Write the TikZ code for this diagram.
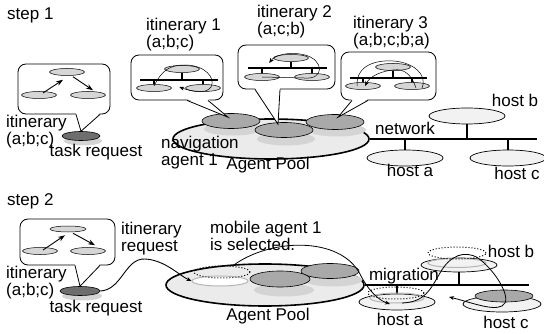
\documentclass[tikz,border=0pt]{standalone}
\usepackage{fontspec}
\setmainfont{Liberation Sans}
\usetikzlibrary{shapes.geometric,arrows.meta,calc}
\definecolor{poolfill}{HTML}{EBEBEB}
\definecolor{agentfill}{HTML}{A9A9A9}
\definecolor{shadowfill}{HTML}{D4D4D4}
\definecolor{hostfill}{HTML}{F2F2F2}
\definecolor{minifill}{HTML}{D6D6D6}
\definecolor{taskfill}{HTML}{6E6E6E}
\definecolor{traceline}{HTML}{B4B4B4}
\begin{document}
\fontsize{17}{17}\selectfont
\begin{tikzpicture}[x=1pt,y=-1pt,>={Stealth[length=5pt,width=4pt]},every node/.style={font=\fontsize{17}{17}\selectfont,inner sep=0pt},txt/.style={align=left},bubble/.style={rectangle,rounded corners=8pt,draw,fill=white,line width=0.8pt},pool/.style={ellipse,draw,fill=poolfill,line width=1.6pt},agent/.style={ellipse,draw,fill=agentfill,line width=0.6pt,minimum width=58pt,minimum height=15pt},agshadow/.style={ellipse,fill=shadowfill,minimum width=58pt,minimum height=13pt},host/.style={ellipse,draw,fill=hostfill,line width=0.7pt,minimum width=76pt,minimum height=16pt},mini/.style={ellipse,draw,fill=minifill,line width=0.5pt,minimum width=35pt,minimum height=7pt},task/.style={ellipse,draw,fill=taskfill,line width=0.6pt,minimum width=38pt,minimum height=9pt},net/.style={line width=2pt},mininet/.style={line width=1.8pt},stem/.style={line width=1.4pt},route/.style={line width=0.5pt},bigarrow/.style={line width=0.9pt,-{Stealth[length=7pt,width=5pt]}},ghost/.style={ellipse,draw,dotted,line width=1pt,minimum width=56pt,minimum height=12pt},trace/.style={ellipse,draw=traceline,line width=1pt,minimum width=56pt,minimum height=10pt}]

            \useasboundingbox (0,0) rectangle (544,334);

            \node[pool,minimum width=196pt,minimum height=40pt] (pool1) at (271,139) {};
            \node[agshadow] (s1) at (233,129) {};
            \node[agshadow] (s3) at (337,130) {};
            \node[agshadow] (s2) at (286,139) {};
            \node[agent] (ag1) at (231,121) {};
            \node[agent] (ag3) at (335,122) {};
            \node[agent] (ag2) at (284,130) {};

            \coordinate (net1) at (537,139);
            \draw[net] (pool1.east) -- (net1);
            \node[host] (hb1) at (467,116) {};
            \node[host] (ha1) at (405,158) {};
            \node[host] (hc1) at (508,158) {};
            \draw[stem] (hb1.south) -- (hb1.south |- net1);
            \draw[stem] (ha1.north) -- (ha1.north |- net1);
            \draw[stem] (hc1.north) -- (hc1.north |- net1);

            \node[task,fill=shadowfill,draw=none] (ts1) at (83,141) {};
            \node[task] (task1) at (81,136) {};

            \node[bubble,minimum width=92pt,minimum height=50pt] (bub0) at (64,89) {};
            \fill[white] ($(bub0.south)+(12,-1.5)$) -- (task1.north) -- ($(bub0.south)+(36,-1.5)$) -- cycle;
            \draw[line width=0.8pt] ($(bub0.south)+(12,0)$) -- (task1.north) -- ($(bub0.south)+(36,0)$);
            \node[mini] (b0) at (67,72) {};
            \node[mini] (a0) at (39,95) {};
            \node[mini] (c0) at (88,95) {};
            \draw[bigarrow] ($(a0.center)+(4,-2)$) -- ($(b0.south)+(-4,4)$);
            \draw[bigarrow] ($(b0.south)+(6,1)$) -- ($(c0.north)+(5,-1)$);

            \node[bubble,minimum width=92pt,minimum height=45pt] (bub1) at (177,77.5) {};
            \coordinate (tip1) at ($(ag1.north)+(-3,4)$);
            \fill[white] ($(bub1.south)+(10,-1.5)$) -- (tip1) -- ($(bub1.south)+(31,-1.5)$) -- cycle;
            \draw[line width=0.8pt] ($(bub1.south)+(10,0)$) -- (tip1) -- ($(bub1.south)+(31,0)$);
            \coordinate (w1) at (140,80);
            \coordinate (e1) at (218,80);
            \node[mini] (b1) at (182,69) {};
            \node[mini] (a1) at (154,88) {};
            \node[mini] (c1) at (203,88) {};
            \draw[stem,line width=1.1pt] (b1.south) -- (b1.south |- w1);
            \draw[stem,line width=1.1pt] (a1.north) -- (a1.north |- w1);
            \draw[stem,line width=1.1pt] (c1.north) -- (c1.north |- w1);
            \draw[mininet] (w1) -- (e1);
            \draw[route,->] ($(a1.center)+(0,-2)$) .. controls (162,70) and (170,65) .. (185,65) .. controls (205,65) and (216,78) .. (211,87) .. controls (206,95) and (190,91) .. ($(c1.west)+(-6,-1)$);

            \node[bubble,minimum width=97pt,minimum height=44pt] (bub2) at (286.5,67) {};
            \coordinate (tip2) at ($(ag2.north)+(-6,2)$);
            \fill[white] ($(bub2.south)+(-31.5,-1.5)$) -- (tip2) -- ($(bub2.south)+(-6.5,-1.5)$) -- cycle;
            \draw[line width=0.8pt] ($(bub2.south)+(-31.5,0)$) -- (tip2) -- ($(bub2.south)+(-6.5,0)$);
            \coordinate (w2) at (248,68);
            \coordinate (e2) at (327,68);
            \node[mini] (b2) at (291,58) {};
            \node[mini] (a2) at (262,77) {};
            \node[mini] (c2) at (312,77) {};
            \draw[stem,line width=1.1pt] (b2.south) -- (b2.south |- w2);
            \draw[stem,line width=1.1pt] (a2.north) -- (a2.north |- w2);
            \draw[stem,line width=1.1pt] (c2.north) -- (c2.north |- w2);
            \draw[mininet] (w2) -- (e2);
            \draw[route,->] (a2.center) -- ($(c2.center)+(-8,1)$) .. controls (325,80) and (324,60) .. (305,55) .. controls (290,51) and (275,55) .. ($(b2.west)+(-4,5)$);

            \node[bubble,minimum width=95pt,minimum height=48pt] (bub3) at (388.5,76) {};
            \coordinate (tip3) at ($(ag3.north)+(3,3)$);
            \fill[white] ($(bub3.south)+(-36.5,-1.5)$) -- (tip3) -- ($(bub3.south)+(-20.5,-1.5)$) -- cycle;
            \draw[line width=0.8pt] ($(bub3.south)+(-36.5,0)$) -- (tip3) -- ($(bub3.south)+(-20.5,0)$);
            \coordinate (w3) at (350,78);
            \coordinate (e3) at (427,78);
            \node[mini] (b3) at (393,67) {};
            \node[mini] (a3) at (363,86) {};
            \node[mini] (c3) at (412,86) {};
            \draw[stem,line width=1.1pt] (b3.south) -- (b3.south |- w3);
            \draw[stem,line width=1.1pt] (a3.north) -- (a3.north |- w3);
            \draw[stem,line width=1.1pt] (c3.north) -- (c3.north |- w3);
            \draw[mininet] (w3) -- (e3);
            \draw[route] ($(a3.center)+(-6,0)$) .. controls (356,64) and (378,60) .. (393,61) .. controls (412,62) and (428,74) .. ($(c3.center)+(10,2)$);
            \draw[route,->] ($(c3.center)+(4,2)$) .. controls (412,76) and (405,68) .. (393,70) .. controls (382,71) and (370,76) .. ($(a3.center)+(2,0)$);

            \node[anchor=base west] (st1) at (7,20) {step 1};
            \node[txt,anchor=west] (it0) at (6,132) {itinerary\\(a;b;c)};
            \node[anchor=base] (tr1) at (96,157) {task request};
            \node[txt,anchor=west] (it1) at (146,35) {itinerary 1\\(a;b;c)};
            \node[txt,anchor=west] (it2) at (257,22) {itinerary 2\\(a;c;b)};
            \node[txt,anchor=west] (it3) at (353,33) {itinerary 3\\(a;b;c;b;a)};
            \node[txt,anchor=west] (nav) at (161,153) {navigation\\agent 1};
            \node[anchor=base] (ap1) at (268,170) {Agent Pool};
            \node[anchor=base] (nw1) at (405,135) {network};
            \node[anchor=base] (hbl1) at (515,107) {host b};
            \node[anchor=base] (hal1) at (410,177) {host a};
            \node[anchor=base] (hcl1) at (517,180) {host c};

            \node[pool,minimum width=198pt,minimum height=42pt] (pool2) at (265,285) {};
            \node[agshadow] (s23) at (333,280) {};
            \node[agshadow,minimum width=60pt] (s22) at (284,290) {};
            \node[trace,fill=white] (gone) at (220,281) {};
            \node[ghost] (sel) at (222,272) {};
            \node[agent] (ag23) at (330,271) {};
            \node[agent,minimum width=60pt,minimum height=16pt] (ag22) at (280,279) {};

            \coordinate (net2) at (529,285);
            \draw[net] (pool2.east) -- (net2);
            \node[host,minimum height=14pt] (hb2) at (459,265) {};
            \node[host] (ha2) at (397,302) {};
            \draw[stem] (hb2.south) -- (hb2.south |- net2);
            \draw[stem] (ha2.north) -- (ha2.north |- net2);
            \node[trace,minimum width=58pt,minimum height=9pt] (tb2) at (457,263) {};
            \node[ghost,minimum width=58pt] (gb2) at (457,253) {};
            \node[trace,minimum width=54pt] (ta2) at (397,298) {};
            \node[ghost] (ga2) at (396,293) {};
            \node[host,minimum width=78pt] (hc2) at (502,304) {};
            \node[agent,minimum height=12pt] (ag21) at (504,296) {};

            \node[task,fill=shadowfill,draw=none,minimum width=40pt] (ts2) at (82,296) {};
            \node[task,minimum width=40pt] (task2) at (80,291) {};

            \node[bubble,minimum width=95pt,minimum height=46pt] (bub4) at (67.5,242) {};
            \fill[white] ($(bub4.south)+(7.5,-1.5)$) -- (task2.north) -- ($(bub4.south)+(32.5,-1.5)$) -- cycle;
            \draw[line width=0.8pt] ($(bub4.south)+(7.5,0)$) -- (task2.north) -- ($(bub4.south)+(32.5,0)$);
            \node[mini,minimum width=36pt,minimum height=6pt] (b4) at (68,229) {};
            \node[mini] (a4) at (40,251) {};
            \node[mini] (c4) at (88,251) {};
            \draw[bigarrow] ($(a4.center)+(3,-1)$) -- ($(b4.south)+(-3,3)$);
            \draw[bigarrow] ($(b4.south)+(5,1)$) -- ($(c4.north)+(7,-2)$);

            \coordinate (ret) at (449,297);
            \draw[line width=0.9pt,->] (task2.east) .. controls (122,290) and (125,258) .. (145,259) .. controls (165,260) and (180,276) .. (gone.west);
            \draw[line width=0.8pt,->] (sel.30) .. controls (270,238) and (340,236) .. (360,274) .. controls (368,290) and (378,300) .. ($(ha2.center)+(-7,2)$);
            \draw[line width=0.8pt,->] ($(ha2.center)+(5,1)$) .. controls (425,302) and (430,290) .. (440,273) .. controls (450,255) and (465,250) .. (478,258) .. controls (495,270) and (514,300) .. (502,306) .. controls (492,311) and (470,302) .. (ret);

            \node[anchor=base west] (st2) at (7,206) {step 2};
            \node[txt,anchor=west] (it4) at (6,283) {itinerary\\(a;b;c)};
            \node[anchor=base] (tr2) at (96,312) {task request};
            \node[txt,anchor=west] (ireq) at (121,239) {itinerary\\request};
            \node[txt,anchor=west] (msel) at (210,236) {mobile agent 1\\is selected.};
            \node[anchor=base] (ap2) at (268,320) {Agent Pool};
            \node[anchor=base] (mig) at (404,280) {migration};
            \node[anchor=base] (hbl2) at (511,258) {host b};
            \node[anchor=base] (hal2) at (400,325) {host a};
            \node[anchor=base] (hcl2) at (506,328) {host c};
        \end{tikzpicture}
\end{document}
